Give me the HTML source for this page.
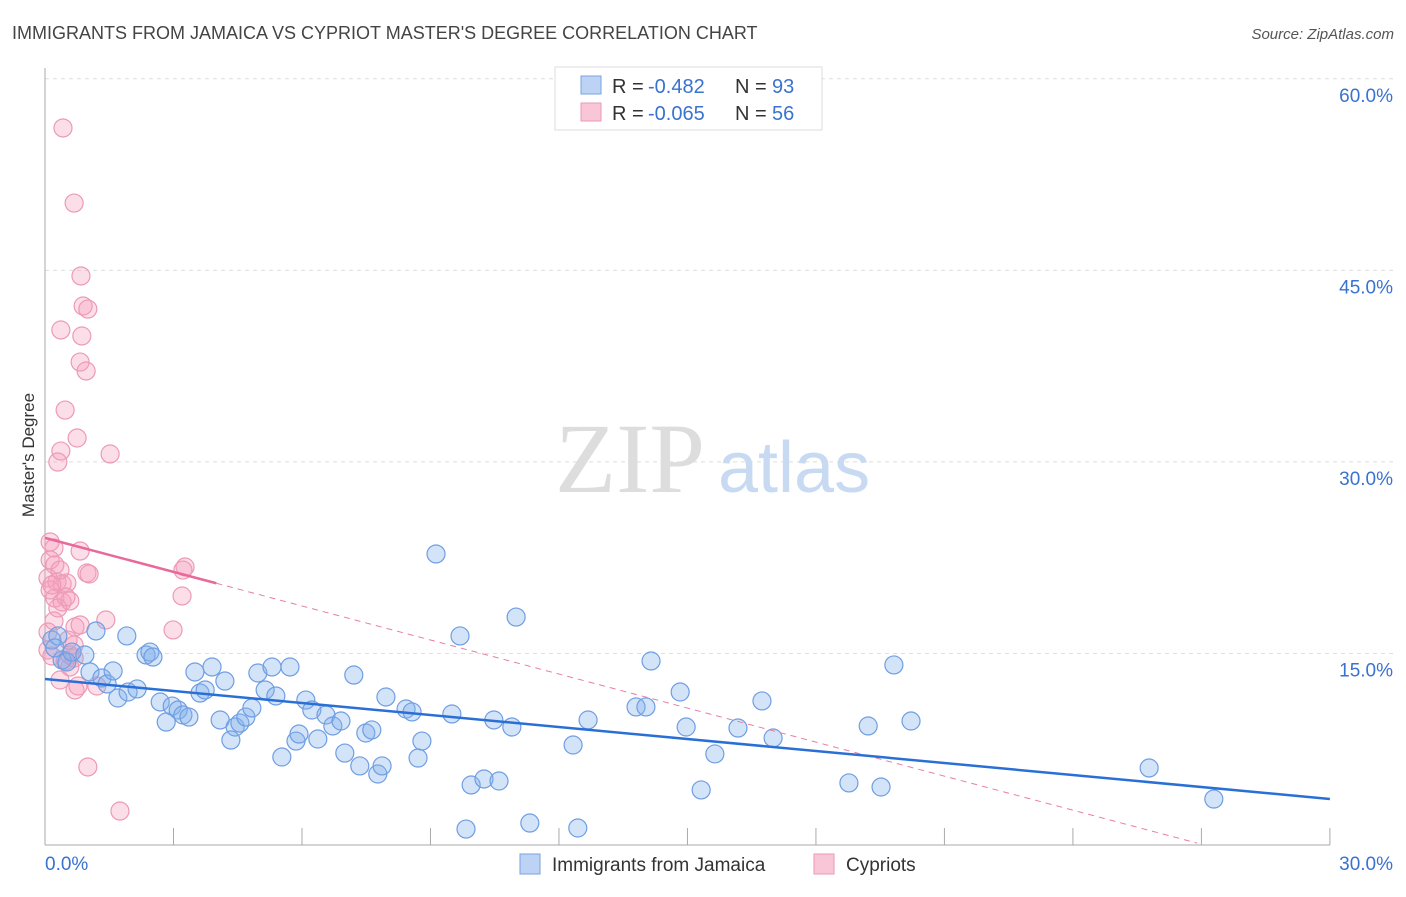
<!DOCTYPE html>
<html><head><meta charset="utf-8"><style>
body{margin:0;background:#fff;font-family:"Liberation Sans",sans-serif;}
svg text{font-family:"Liberation Sans",sans-serif;}
</style></head><body>
<svg id="chart" width="1406" height="892">
<text x="12" y="39" font-size="18" fill="#444">IMMIGRANTS FROM JAMAICA VS CYPRIOT MASTER'S DEGREE CORRELATION CHART</text>
<text x="1394" y="39" font-size="15" fill="#555" text-anchor="end" font-style="italic">Source: ZipAtlas.com</text>
<g id="grid"></g>
<text x="555" y="492" font-size="100" fill="#ddd" style="font-family:'Liberation Serif',serif">ZIP</text>
<text x="718" y="492" font-size="72" fill="#c8daf2">atlas</text>
<g id="axes"></g>
<g id="marks"></g>
<text transform="translate(34,455) rotate(-90)" font-size="17" fill="#333" text-anchor="middle">Master's Degree</text>
<g>
<rect x="555" y="67" width="267" height="63" fill="#fff" stroke="#ddd"/>
<rect x="581" y="76" width="20" height="18" fill="#bcd3f5" stroke="#7aa3e0"/>
<rect x="581" y="103" width="20" height="18" fill="#f8c6d6" stroke="#eb9ab5"/>
<text x="612" y="93" font-size="20" fill="#333">R =</text>
<text x="648" y="93" font-size="20" fill="#3a72d0">-0.482</text>
<text x="735" y="93" font-size="20" fill="#333">N =</text>
<text x="772" y="93" font-size="20" fill="#3a72d0">93</text>
<text x="612" y="120" font-size="20" fill="#333">R =</text>
<text x="648" y="120" font-size="20" fill="#3a72d0">-0.065</text>
<text x="735" y="120" font-size="20" fill="#333">N =</text>
<text x="772" y="120" font-size="20" fill="#3a72d0">56</text>
</g>
<g>
<rect x="520" y="854" width="20" height="20" fill="#bcd3f5" stroke="#7aa3e0"/>
<text x="552" y="871" font-size="19" fill="#333">Immigrants from Jamaica</text>
<rect x="814" y="854" width="20" height="20" fill="#f8c6d6" stroke="#eb9ab5"/>
<text x="846" y="871" font-size="19" fill="#333">Cypriots</text>
</g>
</svg>
<script>
const yTicks=[15,30,45,60];
const yTickLabels=["15.0%","30.0%","45.0%","60.0%"];
const xTickLabels=["0.0%","30.0%"];
const bluePx=[[52,640],[58,636],[62,660],[67,662],[72,652],[85,655],[90,672],[96,631],[102,678],[107,684],[113,671],[118,698],[128,692],[137,689],[127,636],[146,655],[150,652],[153,657],[160,702],[166,722],[172,706],[178,710],[183,715],[189,717],[195,672],[200,693],[205,690],[212,667],[220,720],[225,681],[231,740],[235,727],[240,723],[246,717],[252,708],[258,673],[265,690],[272,667],[276,696],[282,757],[290,667],[296,741],[299,734],[306,700],[312,710],[318,739],[326,715],[333,726],[341,721],[345,753],[354,675],[360,766],[366,733],[372,730],[378,774],[382,766],[386,697],[406,709],[412,712],[418,758],[422,741],[436,554],[452,714],[460,636],[471,785],[484,779],[499,781],[494,720],[512,727],[516,617],[530,823],[466,829],[573,745],[578,828],[588,720],[636,707],[646,707],[651,661],[680,692],[686,727],[701,790],[715,754],[738,728],[762,701],[773,738],[849,783],[868,726],[881,787],[894,665],[911,721],[1149,768],[1214,799],[55,648]];
const pinkPx=[[63,128],[74,203],[81,276],[83,306],[88,309],[61,330],[82,336],[80,362],[86,371],[65,410],[77,438],[61,451],[58,462],[110,454],[50,542],[54,548],[80,551],[50,560],[55,565],[48,578],[57,582],[62,584],[67,583],[50,590],[55,598],[62,602],[70,601],[58,608],[87,573],[89,574],[185,567],[183,570],[182,596],[54,621],[75,627],[106,620],[173,630],[48,650],[52,656],[65,661],[74,658],[70,667],[60,680],[75,690],[78,686],[97,686],[88,767],[120,811],[48,632],[70,655],[66,597],[74,645],[52,585],[60,570],[68,640],[80,625]];
const blueX=bluePx.map(p=>+((p[0]-45)/42.83).toFixed(2));
const blueY=bluePx.map(p=>+((845-p[1])/12.77).toFixed(2));
const pinkX=pinkPx.map(p=>+((p[0]-45)/42.83).toFixed(2));
const pinkY=pinkPx.map(p=>+((845-p[1])/12.77).toFixed(2));
const blueTrend=[13.0,3.6];
const pinkTrend=[24.05,0.15];
const pinkSolidEnd=4.0;
const X=v=>45+v*42.83, Y=v=>845-v*12.77;
const NS="http://www.w3.org/2000/svg";
function mk(p,t,a){const e=document.createElementNS(NS,t);for(const k in a)e.setAttribute(k,a[k]);p.appendChild(e);return e;}
const grid=document.getElementById('grid'),axes=document.getElementById('axes'),marks=document.getElementById('marks');
yTicks.forEach((t,i)=>{
 const l=mk(grid,'line',{x1:45,x2:1394,y1:Y(t),y2:Y(t),stroke:'#ddd','stroke-dasharray':'4,4'});
 
 
 const tx=mk(axes,'text',{x:1393,y:Y(t)+23,'font-size':19,fill:'#3a72d0','text-anchor':'end'});
 tx.textContent=yTickLabels[i];
 
 
});
mk(axes,'line',{x1:45,x2:45,y1:68,y2:845,stroke:'#aaa'});
mk(axes,'line',{x1:45,x2:1330,y1:845,y2:845,stroke:'#aaa'});
for(let i=0;i<=10;i++){const t=mk(axes,'line',{x1:X(i*3),x2:X(i*3),y1:828,y2:845,stroke:'#aaa'});}
[[X(0),'start',xTickLabels[0]],[1393,'end',xTickLabels[1]]].forEach(a=>{const t=mk(axes,'text',{x:a[0],y:870,'font-size':19,fill:'#3a72d0','text-anchor':a[1]});t.textContent=a[2];});
pinkX.forEach((x,i)=>{const c=mk(marks,'circle',{cx:X(x),cy:Y(pinkY[i]),r:9,fill:'rgba(245,160,190,0.35)',stroke:'#ec9ab6','stroke-width':1.2});
 
 });
blueX.forEach((x,i)=>{const c=mk(marks,'circle',{cx:X(x),cy:Y(blueY[i]),r:9,fill:'rgba(130,175,235,0.35)',stroke:'#6f9ee2','stroke-width':1.2});
 
 });
const pk=v=>pinkTrend[0]+(pinkTrend[1]-pinkTrend[0])*v/26.9;
const pd=mk(marks,'line',{x1:X(pinkSolidEnd),y1:Y(pk(pinkSolidEnd)),x2:X(26.9),y2:Y(pinkTrend[1]),stroke:'#e77fa3','stroke-dasharray':'6,5','stroke-width':1});


const ps=mk(marks,'line',{x1:X(0),y1:Y(pinkTrend[0]),x2:X(pinkSolidEnd),y2:Y(pk(pinkSolidEnd)),stroke:'#e8699a','stroke-width':2.5});


const bl=mk(marks,'line',{x1:X(0),y1:Y(blueTrend[0]),x2:X(30),y2:Y(blueTrend[1]),stroke:'#2a6fd6','stroke-width':2.5});


</script>
</body></html>
